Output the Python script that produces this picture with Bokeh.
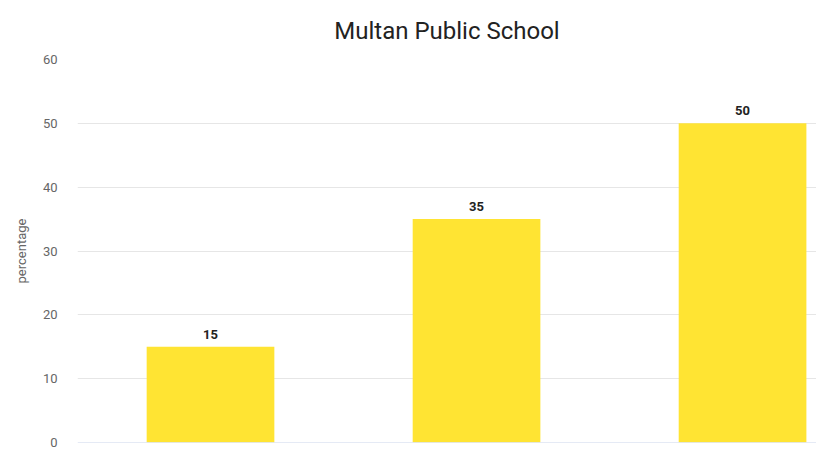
from bokeh.plotting import figure
from bokeh.models import ColumnDataSource, Range1d, Span, LabelSet
from bokeh.core.properties import value
from bokeh.embed import file_html
from bokeh.resources import INLINE

# Data
title_text = "Multan Public School"
positions = [0, 1, 2]
values = [15, 35, 50]
value_labels = ["15", "35", "50"]
y_ticks = [0, 10, 20, 30, 40, 50, 60]

src = ColumnDataSource(data=dict(x=positions, top=values, label=value_labels))

p = figure(width=816, height=450, output_backend="svg", toolbar_location=None,
           x_range=Range1d(-0.5, 2.278), y_range=Range1d(0, 60),
           min_border_left=77, min_border_right=0, min_border_bottom=8, min_border_top=0)

p.title.text = title_text
p.title.align = "center"
p.title.text_font = "Roboto"
p.title.text_font_size = "24px"
p.title.text_font_style = "normal"
p.title.text_color = "#222222"
p.title.standoff = 29
p.title.offset = -6

p.vbar(x="x", top="top", width=0.48, source=src, fill_color="#FFE433", line_color=None)

labels = LabelSet(x="x", y="top", text="label", source=src, text_align="center",
                  text_baseline="bottom", y_offset=8, text_font=value("Roboto"),
                  text_font_size="13px", text_font_style="bold", text_color="#222222")
p.add_layout(labels)

p.add_layout(Span(location=0, dimension="width", line_color="#ccd6eb", line_width=1))

p.xaxis.visible = False
p.xgrid.visible = False
p.ygrid.grid_line_color = "#e6e6e6"
p.yaxis.ticker = y_ticks
p.yaxis.axis_line_color = None
p.yaxis.major_tick_line_color = None
p.yaxis.minor_tick_line_color = None
p.yaxis.major_label_text_font = "Roboto"
p.yaxis.major_label_text_font_size = "13px"
p.yaxis.major_label_text_color = "#666666"
p.yaxis.major_label_standoff = 14
p.yaxis.axis_label = "percentage"
p.yaxis.axis_label_text_font = "Roboto"
p.yaxis.axis_label_text_font_size = "13px"
p.yaxis.axis_label_text_font_style = "normal"
p.yaxis.axis_label_text_color = "#666666"
p.yaxis.axis_label_standoff = 11
p.outline_line_color = None

open("out.html", "w").write(file_html(p, INLINE))
